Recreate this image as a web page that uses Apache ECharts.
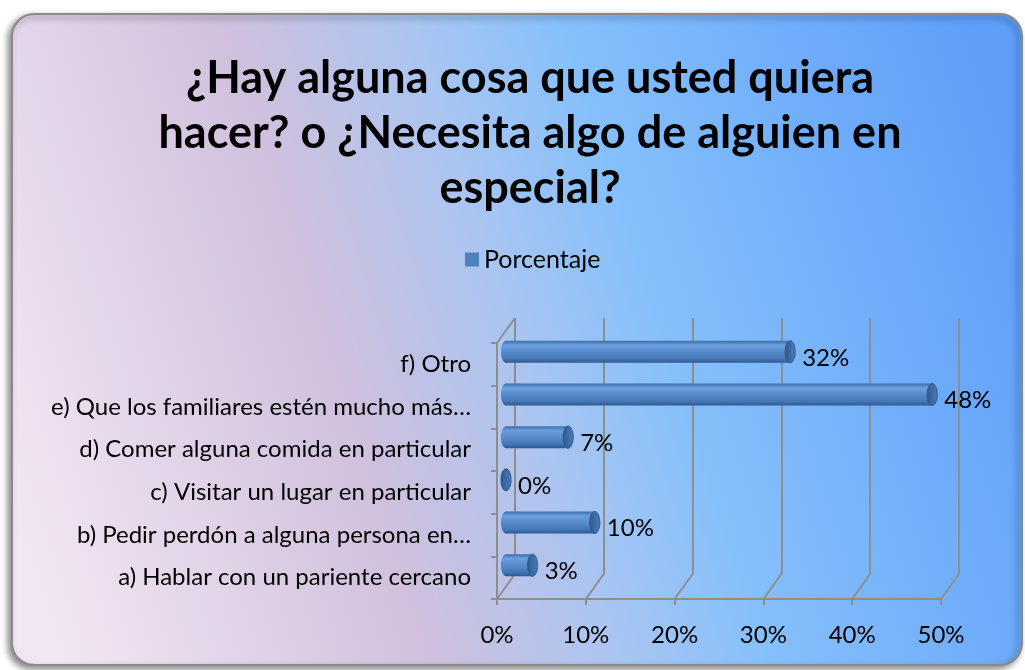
<!DOCTYPE html>
<html>
<head>
<meta charset="utf-8">
<script src="https://cdn.jsdelivr.net/npm/echarts@6/dist/echarts.min.js"></script>
<style>
  html, body { margin: 0; padding: 0; background: #fff; }
  #main { width: 1025px; height: 670px; }
</style>
</head>
<body>
<div id="main"></div>
<script>
// datos del gráfico
const categories = [
    'a) Hablar con un pariente cercano',
    'b) Pedir perdón a alguna persona en…',
    'c) Visitar un lugar en particular',
    'd) Comer alguna comida en particular',
    'e) Que los familiares estén mucho más…',
    'f) Otro'
];
const porcentaje = [0.03, 0.10, 0.00, 0.07, 0.48, 0.32];
const xTicks = [0, 0.1, 0.2, 0.3, 0.4, 0.5];

const titleText = '¿Hay alguna cosa que usted quiera\nhacer? o ¿Necesita algo de alguien en\nespecial?';

// plano frontal y profundidad del efecto 3D
const front = { left: 497, top: 343, width: 444, height: 256 };
const depth = { dx: 18, dy: -25 };
const gridColor = '#8e8e8e';
const font = 'Lato, "Noto Sans", sans-serif';

var chart = echarts.init(document.getElementById('main'));

const barGrad = new echarts.graphic.LinearGradient(0, 0, 0, 1, [
    { offset: 0, color: '#3f6ea6' },
    { offset: 0.2, color: '#6b9edd' },
    { offset: 0.45, color: '#5b8ed0' },
    { offset: 0.8, color: '#4678b8' },
    { offset: 1, color: '#2f5a8f' }
]);
const capGrad = new echarts.graphic.LinearGradient(0, 0, 1, 0, [
    { offset: 0, color: '#2f5a8f' },
    { offset: 1, color: '#4a7cbc' }
]);

function renderBar(params, api) {
    const v = api.value(0);
    const c = api.value(1);
    const p0 = api.coord([0, c]);
    const p1 = api.coord([v, c]);
    const h = 22, rx = 5;
    const ox = depth.dx / 2, oy = depth.dy / 2;
    const cy = p0[1] + oy;
    return {
        type: 'group',
        children: [
            { type: 'ellipse', shape: { cx: p0[0] + ox, cy: cy, rx: rx, ry: h / 2 }, style: { fill: barGrad } },
            { type: 'rect', shape: { x: p0[0] + ox, y: cy - h / 2, width: p1[0] - p0[0], height: h }, style: { fill: barGrad } },
            { type: 'ellipse', shape: { cx: p1[0] + ox, cy: cy, rx: rx, ry: h / 2 }, style: { fill: capGrad, stroke: '#2d5788', lineWidth: 0.6 } },
            {
                type: 'text',
                style: {
                    x: p1[0] + ox + rx + 7, y: cy + 6,
                    text: Math.round(v * 100) + '%',
                    fill: '#000', font: '24px ' + font,
                    textVerticalAlign: 'middle'
                }
            }
        ]
    };
}

const option = {
    backgroundColor: '#fff',
    animation: false,
    title: {
        text: titleText,
        left: 525,
        top: 46,
        textAlign: 'center',
        textStyle: { fontFamily: font, fontWeight: 'bold', fontSize: 45, lineHeight: 55, color: '#000' }
    },
    legend: {
        data: ['Porcentaje'],
        left: 460,
        top: 242,
        icon: 'rect',
        itemWidth: 14,
        itemHeight: 14,
        itemGap: 6,
        textStyle: { fontFamily: font, fontSize: 25, color: '#000' }
    },
    grid: [
        { left: front.left, top: front.top, width: front.width, height: front.height },
        { left: front.left + depth.dx, top: front.top + depth.dy, width: front.width, height: front.height }
    ],
    xAxis: [
        {
            gridIndex: 0, type: 'value', min: 0, max: 0.5, interval: 0.1,
            axisLine: { show: true, lineStyle: { color: gridColor, width: 2 } },
            axisTick: { show: true, length: 6, lineStyle: { color: gridColor, width: 2 } },
            splitLine: { show: false },
            axisLabel: {
                margin: 24, color: '#000', fontFamily: font, fontSize: 24,
                formatter: v => Math.round(v * 100) + '%'
            }
        },
        {
            gridIndex: 1, type: 'value', min: 0, max: 0.5, interval: 0.1,
            axisLine: { show: false }, axisTick: { show: false }, axisLabel: { show: false },
            splitLine: { show: true, lineStyle: { color: gridColor, width: 2 } }
        }
    ],
    yAxis: [
        {
            gridIndex: 0, type: 'category', data: categories,
            axisLine: { show: true, lineStyle: { color: gridColor, width: 2 } },
            axisTick: { show: true, length: 6, lineStyle: { color: gridColor, width: 2 } },
            axisLabel: { margin: 26, color: '#000', fontFamily: font, fontSize: 24 }
        },
        { gridIndex: 1, type: 'category', data: categories, show: false }
    ],
    graphic: [],
    series: [
        {
            name: 'Porcentaje',
            type: 'custom',
            xAxisIndex: 0, yAxisIndex: 0,
            itemStyle: { color: '#4f81bd' },
            data: porcentaje.map((v, i) => [v, i]),
            renderItem: renderBar,
            z: 5
        }
    ]
};

chart.setOption(option);

// fondo con bordes redondeados y líneas de perspectiva
const bottomY = front.top + front.height;
const frame = [{
    type: 'rect',
    z: -10,
    shape: { x: 12, y: 14, width: 1010, height: 651, r: 22 },
    style: {
        fill: new echarts.graphic.LinearGradient(0, 0.75, 1, 0.25, [
            { offset: 0, color: '#f3e6f3' },
            { offset: 0.33, color: '#d0c0dd' },
            { offset: 0.5, color: '#a9c5f1' },
            { offset: 0.63, color: '#86c0fb' },
            { offset: 1, color: '#5e9ef9' }
        ]),
        stroke: '#8a8a8a', lineWidth: 2,
        shadowBlur: 6, shadowOffsetX: -3, shadowOffsetY: 3, shadowColor: 'rgba(0,0,0,0.45)'
    }
}];
xTicks.forEach(t => {
    const x = chart.convertToPixel({ xAxisIndex: 0 }, t);
    frame.push({
        type: 'line', z: 1,
        shape: { x1: x, y1: bottomY, x2: x + depth.dx, y2: bottomY + depth.dy },
        style: { stroke: gridColor, lineWidth: 2 }
    });
});
frame.push({
    type: 'line', z: 1,
    shape: { x1: front.left, y1: front.top, x2: front.left + depth.dx, y2: front.top + depth.dy },
    style: { stroke: gridColor, lineWidth: 2 }
});
chart.setOption({ graphic: frame });
</script>
</body>
</html>
